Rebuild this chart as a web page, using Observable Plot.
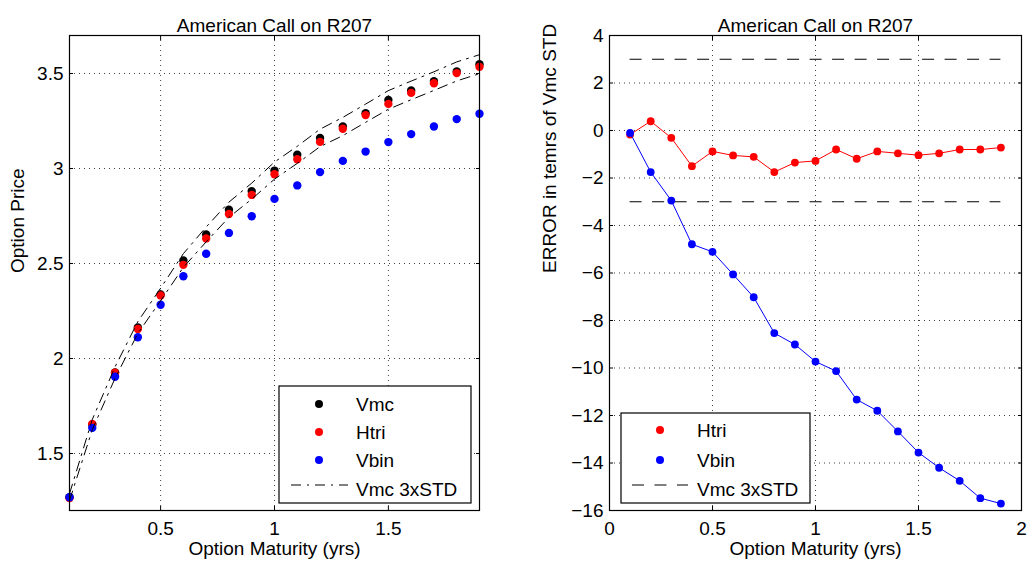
<!DOCTYPE html>
<html><head><meta charset="utf-8">
<script src="https://cdn.jsdelivr.net/npm/d3@7"></script>
<script src="https://cdn.jsdelivr.net/npm/@observablehq/plot@0.6"></script>
<style>
body{margin:0;background:#fff;}
#wrap{position:relative;width:1028px;height:565px;background:#fff;font-family:"Liberation Sans",Arial,Helvetica,sans-serif;overflow:hidden;}
#wrap > svg{position:absolute;top:0;}
</style></head><body><div id="wrap"></div>
<script>
// ---------- data ----------
const maturity = [0.1,0.2,0.3,0.4,0.5,0.6,0.7,0.8,0.9,1.0,1.1,1.2,1.3,1.4,1.5,1.6,1.7,1.8,1.9];
const vmc   = [1.270,1.652,1.926,2.163,2.337,2.516,2.653,2.783,2.881,2.989,3.072,3.161,3.221,3.291,3.361,3.411,3.460,3.511,3.549];
const htri  = [1.266,1.656,1.925,2.155,2.332,2.493,2.632,2.761,2.861,2.970,3.049,3.140,3.209,3.281,3.340,3.398,3.449,3.502,3.535];
const vbin  = [1.270,1.635,1.904,2.112,2.283,2.433,2.551,2.661,2.749,2.840,2.911,2.981,3.040,3.089,3.139,3.181,3.221,3.260,3.288];
const vmcUpper = [1.288,1.679,1.956,2.194,2.370,2.552,2.692,2.823,2.923,3.034,3.117,3.207,3.269,3.339,3.410,3.460,3.509,3.561,3.599];
const vmcLower = [1.252,1.625,1.896,2.132,2.304,2.480,2.614,2.743,2.839,2.944,3.027,3.115,3.173,3.243,3.312,3.362,3.411,3.461,3.499];
const errHtri = [-0.17,0.39,-0.31,-1.50,-0.88,-1.05,-1.11,-1.75,-1.35,-1.28,-0.80,-1.19,-0.88,-0.96,-1.04,-0.96,-0.80,-0.80,-0.72];
const errVbin = [-0.10,-1.75,-2.95,-4.79,-5.11,-6.06,-7.02,-8.53,-9.01,-9.73,-10.13,-11.33,-11.80,-12.67,-13.56,-14.20,-14.75,-15.48,-15.71];
const stdBandX = [0.1, 1.9];
const stdBandLevels = [3, -3];

const leftXTicks = [0.5, 1, 1.5];
const leftYTicks = [1.5, 2, 2.5, 3, 3.5];
const rightXTicks = [0, 0.5, 1, 1.5, 2];
const rightYTicks = [4, 2, 0, -2, -4, -6, -8, -10, -12, -14, -16];

const chartTitle = "American Call on R207";
const xLabel = "Option Maturity (yrs)";
const leftYLabel = "Option Price";
const rightYLabel = "ERROR in temrs of Vmc STD";
const leftLegendLabels = ["Vmc", "Htri", "Vbin", "Vmc 3xSTD"];
const rightLegendLabels = ["Htri", "Vbin", "Vmc 3xSTD"];

// ---------- styles ----------
const BLACK = "#000000", RED = "#ff0000", BLUE = "#0000ff";
const FONT = "Liberation Sans, Arial, Helvetica, sans-serif";
const FS = 19;
const DASHDOT = "10,6,2,6";
const DASHED = "12,10.5";

const priceRows = maturity.map((t, i) => ({t, vmc: vmc[i], htri: htri[i], vbin: vbin[i], up: vmcUpper[i], lo: vmcLower[i]}));
const errRows = maturity.map((t, i) => ({t, eh: errHtri[i], eb: errVbin[i]}));

const fmt = d3.format("~g");
function axesAndGrid(xTicks, yTicks) {
  const g = {stroke: BLACK, strokeOpacity: 0.75, strokeDasharray: "1,4"};
  return [
    Plot.gridX(xTicks, g),
    Plot.gridY(yTicks, g),
  ];
}
function axesTop(xTicks, yTicks) {
  return [
    Plot.axisX(xTicks, {anchor: "bottom", tickSize: 0, tickPadding: 11, tickFormat: fmt, label: null, fontSize: FS}),
    Plot.axisY(yTicks, {anchor: "left", tickSize: 0, tickPadding: 6, tickFormat: fmt, label: null, fontSize: FS}),
    Plot.axisX(xTicks, {anchor: "bottom", tickSize: -4, fill: "none", label: null}),
    Plot.axisX(xTicks, {anchor: "top", tickSize: -4, fill: "none", label: null}),
    Plot.axisY(yTicks, {anchor: "left", tickSize: -4, fill: "none", label: null}),
    Plot.axisY(yTicks, {anchor: "right", tickSize: -4, fill: "none", label: null}),
    Plot.frame({stroke: BLACK, strokeWidth: 1.2})
  ];
}
function labels(yLab, ydx) {
  return [
    Plot.text([chartTitle], {frameAnchor: "top", dy: -17.3, fontSize: FS}),
    Plot.text([xLabel], {frameAnchor: "bottom", dy: 44, fontSize: FS}),
    Plot.text([yLab], {frameAnchor: "left", dx: ydx, rotate: -90, fontSize: FS})
  ];
}

const styleObj = {fontFamily: FONT, fontSize: FS + "px", color: BLACK, background: "transparent", overflow: "visible"};

const left = Plot.plot({
  width: 520, height: 565,
  marginLeft: 69, marginRight: 41, marginTop: 35, marginBottom: 55,
  x: {domain: [0.1, 1.9]},
  y: {domain: [1.2, 3.7]},
  style: styleObj,
  marks: [
    ...axesAndGrid(leftXTicks, leftYTicks),
    Plot.dot(priceRows, {x: "t", y: "vmc", r: 4.2, fill: BLACK}),
    Plot.dot(priceRows, {x: "t", y: "htri", r: 4.2, fill: RED}),
    Plot.dot(priceRows, {x: "t", y: "vbin", r: 4.2, fill: BLUE}),
    Plot.line(priceRows, {x: "t", y: "up", stroke: BLACK, strokeWidth: 1, strokeDasharray: DASHDOT}),
    Plot.line(priceRows, {x: "t", y: "lo", stroke: BLACK, strokeWidth: 1, strokeDasharray: DASHDOT}),
    ...axesTop(leftXTicks, leftYTicks),
    ...labels(leftYLabel, -52)
  ]
});
left.style.left = "0px";

const right = Plot.plot({
  width: 508, height: 565,
  marginLeft: 89, marginRight: 7, marginTop: 35, marginBottom: 55,
  x: {domain: [0, 2]},
  y: {domain: [-16, 4]},
  style: styleObj,
  marks: [
    ...axesAndGrid(rightXTicks, rightYTicks),
    Plot.ruleY(stdBandLevels, {x1: stdBandX[0], x2: stdBandX[1], stroke: BLACK, strokeWidth: 1, strokeDasharray: DASHED}),
    Plot.line(errRows, {x: "t", y: "eh", stroke: RED, strokeWidth: 1}),
    Plot.dot(errRows, {x: "t", y: "eh", r: 3.9, fill: RED}),
    Plot.line(errRows, {x: "t", y: "eb", stroke: BLUE, strokeWidth: 1}),
    Plot.dot(errRows, {x: "t", y: "eb", r: 3.9, fill: BLUE}),
    ...axesTop(rightXTicks, rightYTicks),
    ...labels(rightYLabel, -60)
  ]
});
right.style.left = "520px";

const wrap = document.getElementById("wrap");
wrap.appendChild(left);
wrap.appendChild(right);

// ---------- legends (overlay) ----------
const ov = d3.select(wrap).append("svg")
  .attr("width", 1028).attr("height", 565)
  .style("left", "0px").style("font-family", FONT).style("font-size", FS + "px");

function legend(box, items) {
  const g = ov.append("g");
  g.append("rect").attr("x", box.x).attr("y", box.y).attr("width", box.w).attr("height", box.h)
    .attr("fill", "#fff").attr("stroke", BLACK).attr("stroke-width", 1.2);
  items.forEach((it, i) => {
    const y = box.rows[i];
    if (it.kind === "dot") {
      g.append("circle").attr("cx", box.mx).attr("cy", y).attr("r", 4).attr("fill", it.color);
    } else {
      g.append("line").attr("x1", box.l1).attr("x2", box.l2).attr("y1", y - 4).attr("y2", y - 4)
        .attr("stroke", BLACK).attr("stroke-width", 1).attr("stroke-dasharray", it.dash);
    }
    g.append("text").attr("x", box.tx).attr("y", y).attr("dy", "0.35em").text(it.label);
  });
}
legend({x: 279, y: 386, w: 192, h: 117, mx: 319, tx: 356, l1: 291, l2: 348, rows: [404, 432, 460, 489]},
  leftLegendLabels.map((label, i) => ({label, kind: i < 3 ? "dot" : "line", color: [BLACK, RED, BLUE][i], dash: DASHDOT})));
legend({x: 621, y: 413, w: 189, h: 90, mx: 660, tx: 697, l1: 632, l2: 688, rows: [430, 460, 489]},
  rightLegendLabels.map((label, i) => ({label, kind: i < 2 ? "dot" : "line", color: [RED, BLUE][i], dash: DASHED})));
</script></body></html>
